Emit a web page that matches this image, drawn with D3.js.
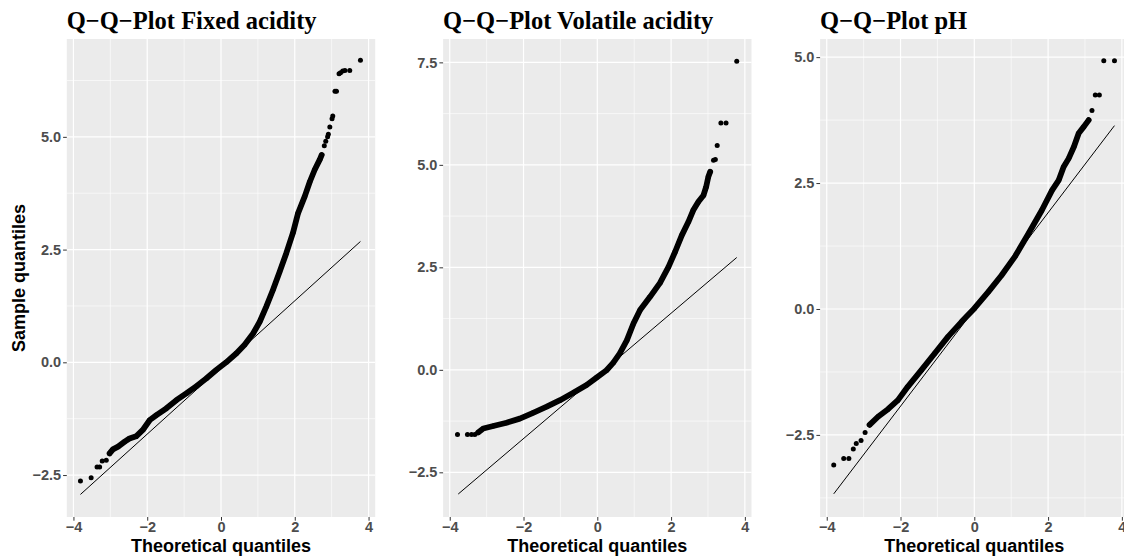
<!DOCTYPE html>
<html>
<head>
<meta charset="utf-8">
<script src="https://cdn.jsdelivr.net/npm/d3@7"></script>
<style>
body { margin: 0; background: #fff; }
</style>
</head>
<body>
<div id="chart-area"></div>
<script>
// panel titles and ticks
const titles = ["Q−Q−Plot Fixed acidity", "Q−Q−Plot Volatile acidity", "Q−Q−Plot pH"]
const xTicks = [-4, -2, 0, 2, 4]
const yTicksFixed = [-2.5, 0, 2.5, 5]
const yTicksVolatile = [-2.5, 0, 2.5, 5, 7.5]
const yTicksPH = [-2.5, 0, 2.5, 5]

// [theoretical, sample]; "body" = the dense run of points
const fixedBody = [[-3.02,-2.02],[-2.93,-1.93],[-2.79,-1.87],[-2.61,-1.76],[-2.48,-1.69],[-2.30,-1.64],
    [-2.12,-1.50],[-1.93,-1.28],[-1.75,-1.17],[-1.48,-1.02],[-1.21,-0.84],[-0.94,-0.69],[-0.67,-0.53],
    [-0.40,-0.36],[-0.13,-0.17],[0.14,0.0],[0.42,0.20],[0.64,0.39],[0.87,0.64],[1.05,0.90],[1.23,1.24],
    [1.41,1.61],[1.59,2.01],[1.77,2.42],[1.95,2.87],[2.09,3.31],[2.27,3.68],[2.41,4.01],[2.54,4.27],
    [2.68,4.50],[2.73,4.60]]
const fixedOutliers = [[-3.81,-2.63],[-3.52,-2.56],[-3.36,-2.32],[-3.29,-2.32],[-3.22,-2.19],[-3.11,-2.17],
    [2.80,4.80],[2.84,4.90],[2.89,5.00],[2.91,5.06],[2.95,5.22],[3.01,5.40],[3.03,5.46],
    [3.09,6.01],[3.13,6.01],[3.20,6.40],[3.24,6.42],[3.30,6.46],[3.36,6.47],[3.49,6.47],[3.78,6.70]]
const fixedLine = [[-3.81,-2.93],[3.78,2.68]]

const volatileBody = [[-3.23,-1.53],[-3.09,-1.43],[-2.82,-1.37],[-2.46,-1.29],[-2.10,-1.19],[-1.74,-1.05],
    [-1.37,-0.90],[-1.01,-0.74],[-0.65,-0.56],[-0.29,-0.37],[-0.02,-0.19],[0.25,-0.01],[0.43,0.17],
    [0.61,0.40],[0.80,0.72],[0.98,1.13],[1.16,1.46],[1.43,1.78],[1.70,2.12],[1.93,2.51],[2.11,2.88],
    [2.29,3.28],[2.47,3.61],[2.60,3.89],[2.74,4.10],[2.88,4.26],[2.95,4.46],[3.01,4.71],[3.06,4.83]]
const volatileOutliers = [[-3.79,-1.58],[-3.52,-1.58],[-3.41,-1.58],[-3.32,-1.58],
    [3.15,5.11],[3.20,5.13],[3.25,5.47],[3.35,6.02],[3.49,6.02],[3.78,7.53]]
const volatileLine = [[-3.77,-3.03],[3.78,2.74]]

const phBody = [[-2.84,-2.30],[-2.61,-2.14],[-2.34,-1.99],[-2.07,-1.81],[-1.80,-1.54],[-1.43,-1.21],
    [-1.07,-0.88],[-0.71,-0.55],[-0.34,-0.25],[0.0,0.01],[0.38,0.34],[0.74,0.67],[1.11,1.05],
    [1.47,1.50],[1.83,1.96],[2.11,2.36],[2.29,2.56],[2.42,2.82],[2.56,2.99],[2.70,3.22],[2.83,3.49],
    [2.97,3.62],[3.10,3.75]]
const phOutliers = [[-3.81,-3.10],[-3.54,-2.97],[-3.40,-2.97],[-3.28,-2.78],[-3.20,-2.67],[-3.07,-2.61],
    [-2.96,-2.45],[3.19,3.94],[3.28,4.25],[3.39,4.25],[3.51,4.93],[3.80,4.93]]
const phLine = [[-3.81,-3.67],[3.80,3.64]]

const WIDTH = 1124
const HEIGHT = 557
const PANEL_TOP = 39
const PANEL_BOTTOM = 517
const PANEL_W = 308.4
const TICK = 3.7

const panels = [
    { left: 66.8, title: titles[0], yDomain: [-3.43, 7.17], yTicks: yTicksFixed,
      body: fixedBody, outliers: fixedOutliers, line: fixedLine },
    { left: 443.1, title: titles[1], yDomain: [-3.59, 8.07], yTicks: yTicksVolatile,
      body: volatileBody, outliers: volatileOutliers, line: volatileLine },
    { left: 820.1, title: titles[2], yDomain: [-4.13, 5.36], yTicks: yTicksPH,
      body: phBody, outliers: phOutliers, line: phLine }
]

const svg = d3.select("#chart-area").append("svg")
    .attr("width", WIDTH)
    .attr("height", HEIGHT)
    .style("display", "block")

svg.append("rect")
    .attr("width", WIDTH)
    .attr("height", HEIGHT)
    .attr("fill", "#fff")

panels.forEach(p => {
    const x = d3.scaleLinear()
        .domain([-4.18, 4.18])
        .range([p.left, p.left + PANEL_W])
    const y = d3.scaleLinear()
        .domain(p.yDomain)
        .range([PANEL_BOTTOM, PANEL_TOP])

    const clipId = "clip" + Math.round(p.left)
    svg.append("clipPath").attr("id", clipId)
        .append("rect")
        .attr("x", p.left).attr("y", PANEL_TOP)
        .attr("width", PANEL_W).attr("height", PANEL_BOTTOM - PANEL_TOP)

    const g = svg.append("g")

    g.append("rect")
        .attr("x", p.left)
        .attr("y", PANEL_TOP)
        .attr("width", PANEL_W)
        .attr("height", PANEL_BOTTOM - PANEL_TOP)
        .attr("fill", "#EBEBEB")

    // minor grid
    const xMinor = d3.pairs(xTicks).map(([a, b]) => (a + b) / 2)
    const step = p.yTicks[1] - p.yTicks[0]
    const yMinor = [p.yTicks[0] - step / 2].concat(p.yTicks.map(t => t + step / 2))
        .filter(v => v > p.yDomain[0] && v < p.yDomain[1])

    g.selectAll(".xminor").data(xMinor).enter().append("line")
        .attr("x1", d => x(d)).attr("x2", d => x(d))
        .attr("y1", PANEL_TOP).attr("y2", PANEL_BOTTOM)
        .attr("stroke", "#fff").attr("stroke-width", 0.6)
    g.selectAll(".yminor").data(yMinor).enter().append("line")
        .attr("y1", d => y(d)).attr("y2", d => y(d))
        .attr("x1", p.left).attr("x2", p.left + PANEL_W)
        .attr("stroke", "#fff").attr("stroke-width", 0.6)

    // major grid
    g.selectAll(".xmajor").data(xTicks).enter().append("line")
        .attr("x1", d => x(d)).attr("x2", d => x(d))
        .attr("y1", PANEL_TOP).attr("y2", PANEL_BOTTOM)
        .attr("stroke", "#fff").attr("stroke-width", 1.2)
    g.selectAll(".ymajor").data(p.yTicks).enter().append("line")
        .attr("y1", d => y(d)).attr("y2", d => y(d))
        .attr("x1", p.left).attr("x2", p.left + PANEL_W)
        .attr("stroke", "#fff").attr("stroke-width", 1.2)

    const marks = g.append("g").attr("clip-path", `url(#${clipId})`)

    // dense part of the sample
    marks.append("path")
        .datum(p.body)
        .attr("d", d3.line().x(d => x(d[0])).y(d => y(d[1])))
        .attr("fill", "none")
        .attr("stroke", "#000")
        .attr("stroke-width", 5.8)
        .attr("stroke-linecap", "round")
        .attr("stroke-linejoin", "round")

    marks.selectAll(".pt").data(p.body.concat(p.outliers)).enter().append("circle")
        .attr("cx", d => x(d[0]))
        .attr("cy", d => y(d[1]))
        .attr("r", 2.5)
        .attr("fill", "#000")

    // reference line
    marks.append("path")
        .datum(p.line)
        .attr("d", d3.line().x(d => x(d[0])).y(d => y(d[1])))
        .attr("stroke", "#000")
        .attr("stroke-width", 1)
        .attr("fill", "none")

    // axes
    const xAxisCall = d3.axisBottom(x)
        .tickValues(xTicks)
        .tickFormat(d3.format("d"))
        .tickSize(TICK)
        .tickPadding(1.5)
    const xAxis = g.append("g")
        .attr("transform", `translate(0, ${PANEL_BOTTOM})`)
        .call(xAxisCall)

    const yAxisCall = d3.axisLeft(y)
        .tickValues(p.yTicks)
        .tickFormat(d3.format(".1f"))
        .tickSize(TICK)
        .tickPadding(2)
    const yAxis = g.append("g")
        .attr("transform", `translate(${p.left}, 0)`)
        .call(yAxisCall)

    ;[xAxis, yAxis].forEach(a => {
        a.select(".domain").remove()
        a.selectAll(".tick line").attr("stroke", "#333").attr("stroke-width", 1)
        a.selectAll(".tick text")
            .attr("fill", "#4D4D4D")
            .attr("font-family", "Liberation Sans, Arial, sans-serif")
            .attr("font-weight", "bold")
            .attr("font-size", "14.5px")
    })

    g.append("text")
        .attr("x", p.left + PANEL_W / 2)
        .attr("y", 552)
        .attr("text-anchor", "middle")
        .attr("font-family", "Liberation Sans, Arial, sans-serif")
        .attr("font-weight", "bold")
        .attr("font-size", "18px")
        .text("Theoretical quantiles")

    g.append("text")
        .attr("x", p.left)
        .attr("y", 28.5)
        .attr("font-family", "Liberation Serif, Times New Roman, serif")
        .attr("font-weight", "bold")
        .attr("font-size", "24.5px")
        .text(p.title)
})

svg.append("text")
    .attr("x", -(PANEL_TOP + PANEL_BOTTOM) / 2)
    .attr("y", 24.5)
    .attr("transform", "rotate(-90)")
    .attr("text-anchor", "middle")
    .attr("font-family", "Liberation Sans, Arial, sans-serif")
    .attr("font-weight", "bold")
    .attr("font-size", "18px")
    .text("Sample quantiles")
</script>
</body>
</html>
